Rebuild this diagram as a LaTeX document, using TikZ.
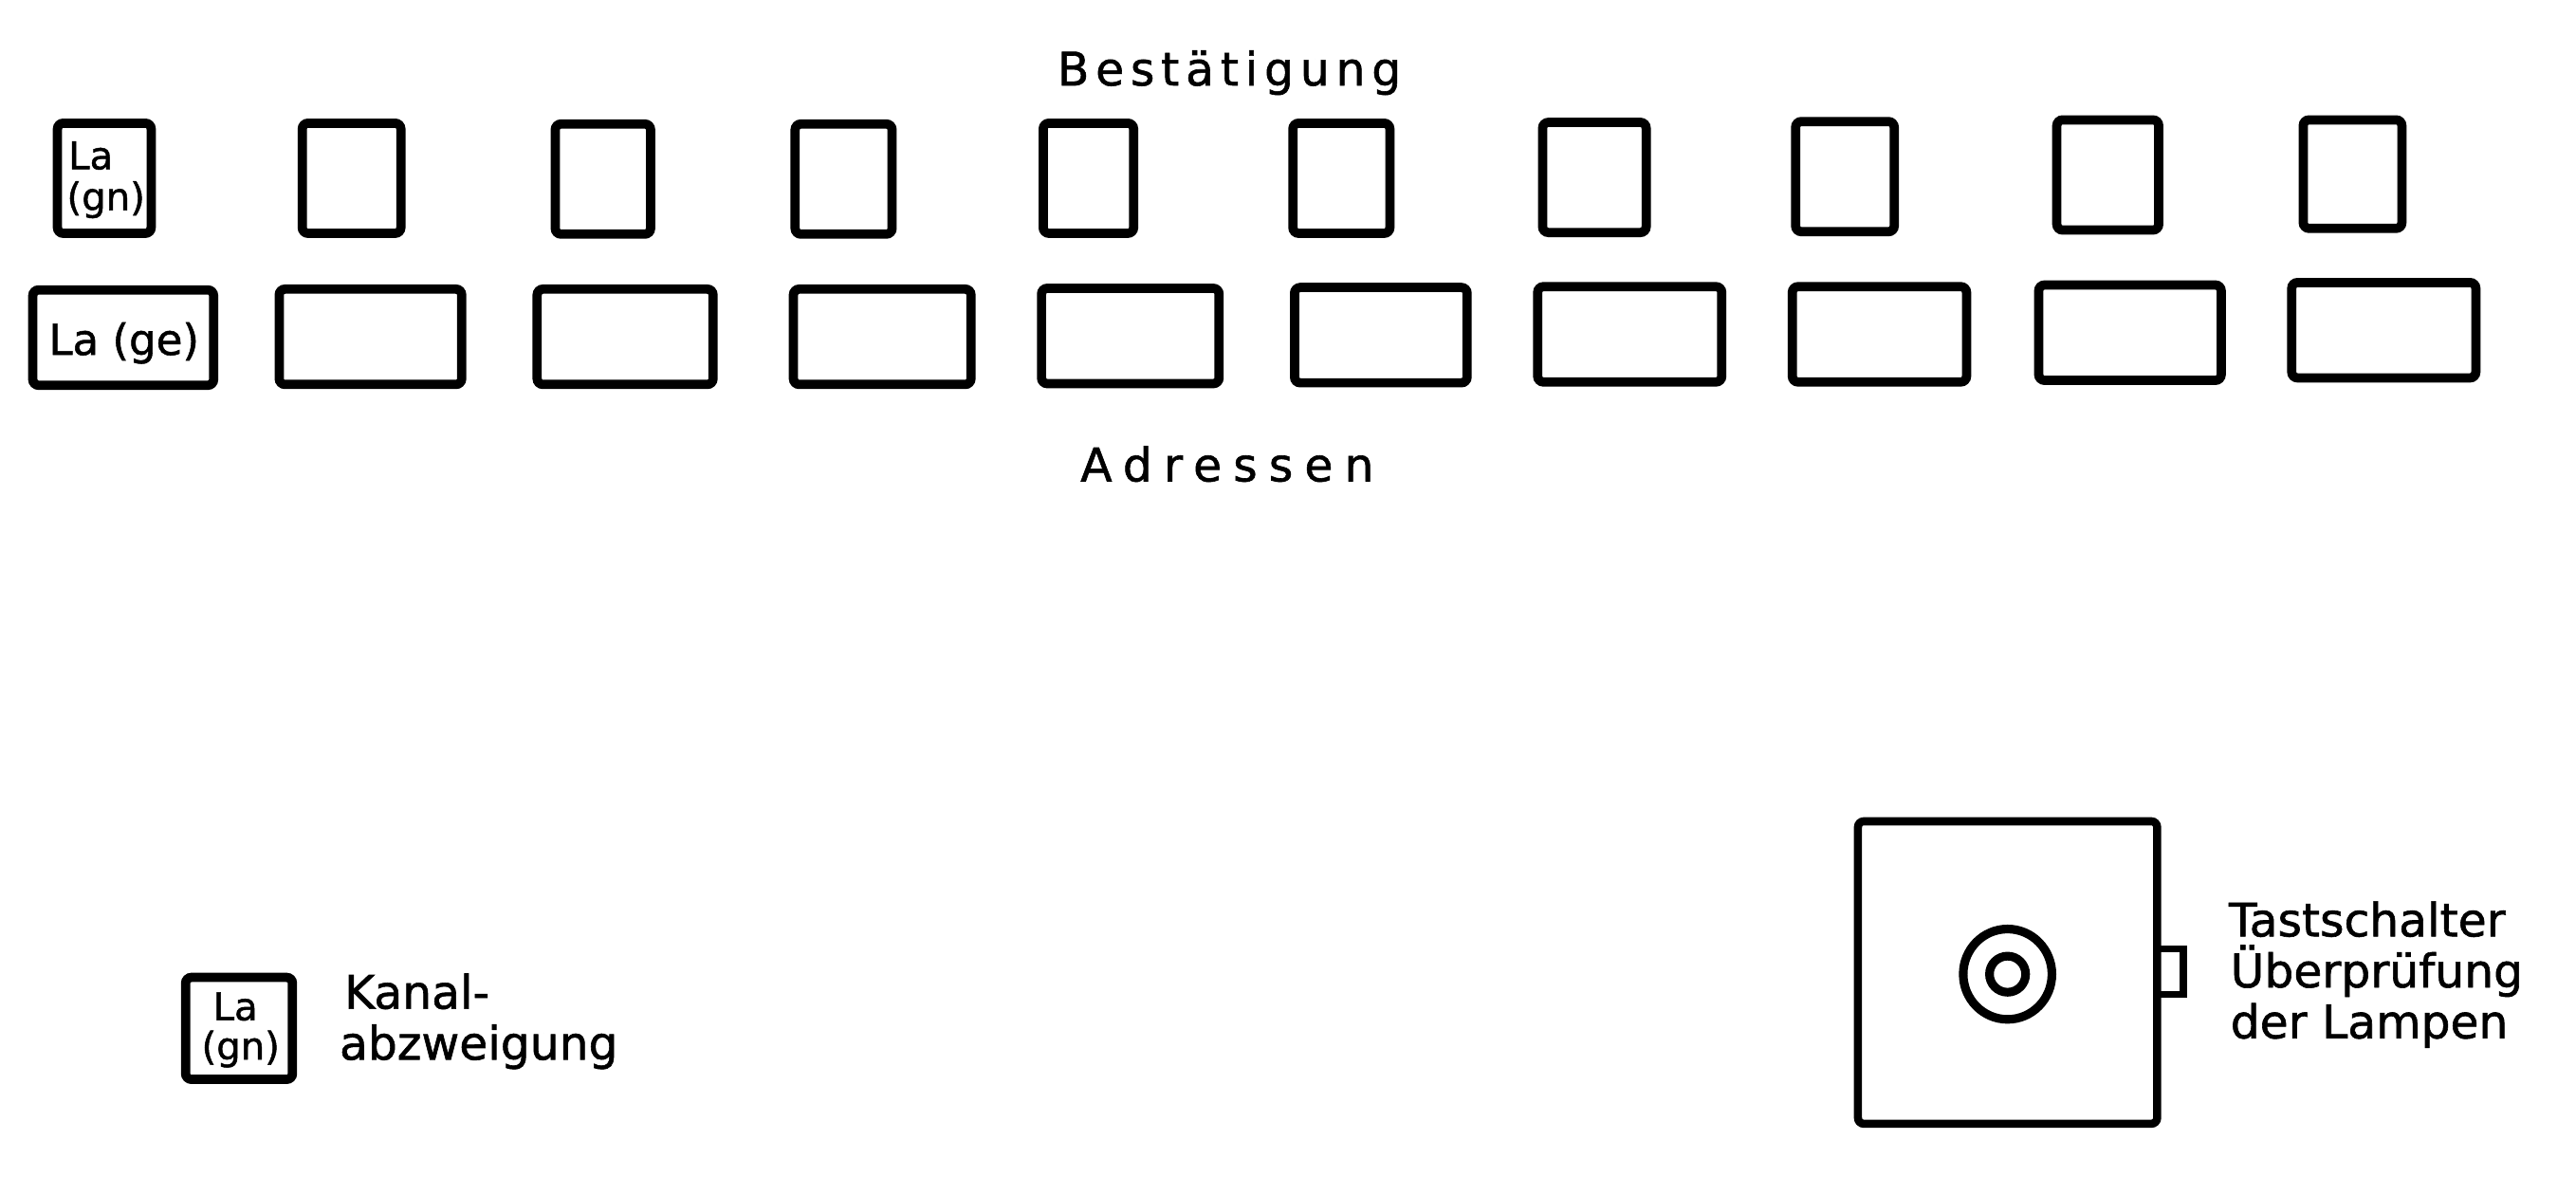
\documentclass[tikz,border=0pt]{standalone}
\usepackage{fontspec}
\setmainfont{DejaVu Sans}[FakeBold=1.2]
\newfontfamily\spacedA[LetterSpace=14,FakeBold=1.2]{DejaVu Sans}
\newfontfamily\spacedB[LetterSpace=25,FakeBold=1.2]{DejaVu Sans}
\begin{document}
\begin{tikzpicture}[x=0.01cm,y=-0.01cm,
  box/.style={draw, line width=1.6pt, inner sep=0pt, outer sep=0pt, rounded corners=1pt},
  lbl/.style={anchor=base west, inner sep=0pt, font=\fontsize{8}{9}\selectfont},
  inlbl/.style={anchor=base west, inner sep=0pt, font=\fontsize{6.6}{8}\selectfont}]
\useasboundingbox (0,0) rectangle (1568,727);
% top row (Bestaetigung)
\node[box, minimum width=0.57cm, minimum height=0.67cm] (t1) at (63.5,108.5) {};
\node[box, minimum width=0.60cm, minimum height=0.67cm] (t2) at (214,108.5) {};
\node[box, minimum width=0.58cm, minimum height=0.67cm] (t3) at (367,109) {};
\node[box, minimum width=0.59cm, minimum height=0.67cm] (t4) at (513.5,109) {};
\node[box, minimum width=0.55cm, minimum height=0.67cm] (t5) at (662.5,108.5) {};
\node[box, minimum width=0.59cm, minimum height=0.67cm] (t6) at (816.5,108.5) {};
\node[box, minimum width=0.63cm, minimum height=0.67cm] (t7) at (970.5,108) {};
\node[box, minimum width=0.60cm, minimum height=0.67cm] (t8) at (1123,107.5) {};
\node[box, minimum width=0.62cm, minimum height=0.67cm] (t9) at (1283,106.5) {};
\node[box, minimum width=0.60cm, minimum height=0.66cm] (t10) at (1432,106) {};
% bottom row (Adressen)
\node[box, minimum width=1.10cm, minimum height=0.58cm] (b1) at (75,205.5) {};
\node[box, minimum width=1.11cm, minimum height=0.58cm] (b2) at (225.5,205) {};
\node[box, minimum width=1.07cm, minimum height=0.58cm] (b3) at (380.5,205) {};
\node[box, minimum width=1.08cm, minimum height=0.58cm] (b4) at (537,205) {};
\node[box, minimum width=1.08cm, minimum height=0.58cm] (b5) at (688,204.5) {};
\node[box, minimum width=1.05cm, minimum height=0.58cm] (b6) at (840.5,204) {};
\node[box, minimum width=1.12cm, minimum height=0.58cm] (b7) at (992,203.5) {};
\node[box, minimum width=1.06cm, minimum height=0.58cm] (b8) at (1144,203.5) {};
\node[box, minimum width=1.11cm, minimum height=0.58cm] (b9) at (1296.5,202.5) {};
\node[box, minimum width=1.12cm, minimum height=0.58cm] (b10) at (1451,201) {};
% labels in boxes
\node[inlbl] (t1a) at (41,103) {La};
\node[inlbl] (t1b) at (40,128) {(gn)};
\node[inlbl, font=\fontsize{7.4}{8}\selectfont] (b1a) at (29,216) {La (ge)};
% headings
\node[lbl, font=\fontsize{8}{9}\spacedA] (hb) at (643,52) {Bestätigung};
\node[lbl, font=\fontsize{8}{9}\spacedB] (ha) at (657,293) {Adressen};
% legend
\node[box, minimum width=0.65cm, minimum height=0.62cm] (lg) at (145.5,626) {};
\node[inlbl] (lga) at (129,621) {La};
\node[inlbl] (lgb) at (122,645) {(gn)};
\node[lbl] (k1) at (209,614) {Kanal-};
\node[lbl] (k2) at (206,645) {abzweigung};
% switch box
\node[box, line width=1.4pt, minimum width=1.82cm, minimum height=1.84cm] (sw) at (1222,592) {};
\coordinate (lamp) at (1222,593);
\draw[line width=1.5pt] (lamp) ellipse [x radius=27, y radius=27.5];
\draw[line width=1.5pt] (lamp) circle [radius=11];
\draw[line width=1.2pt] (sw.east |- 0,577.5) -- (1329,577.5) -- (1329,605.5) -- (sw.east |- 0,605.5);
\node[lbl] (s1) at (1356,570) {Tastschalter};
\node[lbl] (s2) at (1357,601) {Überprüfung};
\node[lbl] (s3) at (1357,632) {der Lampen};
\end{tikzpicture}
\end{document}
